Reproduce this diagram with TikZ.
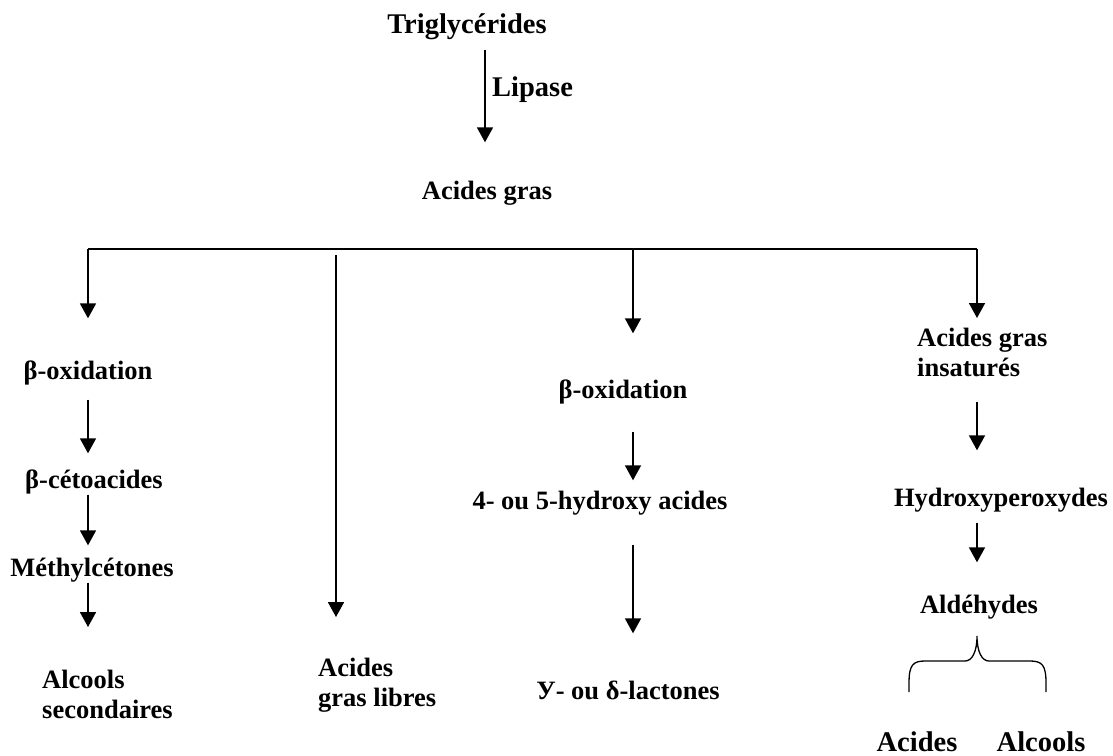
\documentclass[tikz,border=0pt]{standalone}
\usepackage{fontspec}
\setmainfont{Liberation Serif}
\usetikzlibrary{arrows.meta}

\begin{document}
\begin{tikzpicture}[x=1pt,y=-1pt,
  lbl/.style={font=\fontsize{26.5}{30}\selectfont\bfseries, inner sep=0pt,
    text height=19pt, text depth=6pt},
  big/.style={lbl, font=\fontsize{28.5}{32}\selectfont\bfseries},
  blk/.style={font=\fontsize{26.5}{30}\selectfont\bfseries, inner sep=0pt,
    align=left, anchor=north west},
  arr/.style={-{Triangle[width=16pt,length=15pt]}, line width=1.8pt},
  ln/.style={line width=1.8pt}]
\useasboundingbox (0,0) rectangle (1113,755);

% columns
\coordinate (colT) at (485,0);
\coordinate (colA) at (88,249);
\coordinate (colB) at (336,249);
\coordinate (colC) at (633,249);
\coordinate (colD) at (977,249);

% top
\node [big] (trig) at (467,27) {Triglycérides};
\node [big, anchor=west] (lip) at (492,90) {Lipase};
\node [lbl] (ag) at (487,193) {Acides gras};
\draw [arr, shorten <=10pt, shorten >=38pt] (trig.south -| colT) -- (ag.north -| colT);
\draw [ln] (colA) -- (colD);

% left branch
\node [lbl] (box1) at (88,373) {β-oxidation};
\node [lbl] (ceto) at (94,482) {β-cétoacides};
\node [lbl] (meth) at (92,570) {Méthylcétones};
\node [blk] (alc) at (42,670) {Alcools\\secondaires};
\draw [arr, shorten >=42pt] (colA) -- (box1.north -| colA);
\draw [arr, shorten <=14pt, shorten >=16pt] (box1.south -| colA) -- (ceto.north -| colA);
\draw [arr, shorten >=12pt] (ceto.south -| colA) -- (meth.north -| colA);
\draw [arr, shorten >=43pt] (meth.south -| colA) -- (alc.north -| colA);

% free fatty acids
\node [blk] (agl) at (318,658) {Acides\\gras libres};
\draw [arr, shorten <=6pt, shorten >=41pt] (colB) -- (agl.north -| colB);

% middle branch
\node [lbl] (box2) at (623,392) {β-oxidation};
\node [lbl] (hyd) at (600,503) {4- ou 5-hydroxy acides};
\node [lbl] (lac) at (628,693) {У- ou δ-lactones};
\draw [arr, shorten >=46pt] (colC) -- (box2.north -| colC);
\draw [arr, shorten <=27pt, shorten >=10pt] (box2.south -| colC) -- (hyd.north -| colC);
\draw [arr, shorten <=29pt, shorten >=47pt] (hyd.south -| colC) -- (lac.north -| colC);

% right branch
\node [blk] (agi) at (917,328) {Acides gras\\insaturés};
\node [lbl] (hper) at (1001,500) {Hydroxyperoxydes};
\node [lbl] (ald) at (979,607) {Aldéhydes};
\draw [arr, shorten >=10pt] (colD) -- (agi.north -| colD);
\draw [arr, shorten <=25pt, shorten >=37pt] (agi.south -| colD) -- (hper.north -| colD);
\draw [arr, shorten <=10pt, shorten >=32pt] (hper.south -| colD) -- (ald.north -| colD);

% brace
\draw [line width=1.3pt] (909,692) -- (909,683) .. controls (909,665) and (913,661) .. (925,661)
  -- (965,661) .. controls (972,661) and (977,652) .. (977,636)
  .. controls (977,652) and (982,661) .. (989,661) -- (1030,661)
  .. controls (1042,661) and (1046,665) .. (1046,683) -- (1046,692);
\node [big, anchor=base] (acd) at (917,751) {Acides};
\node [big, anchor=base] (alo) at (1041,751) {Alcools};

\end{tikzpicture}
\end{document}
